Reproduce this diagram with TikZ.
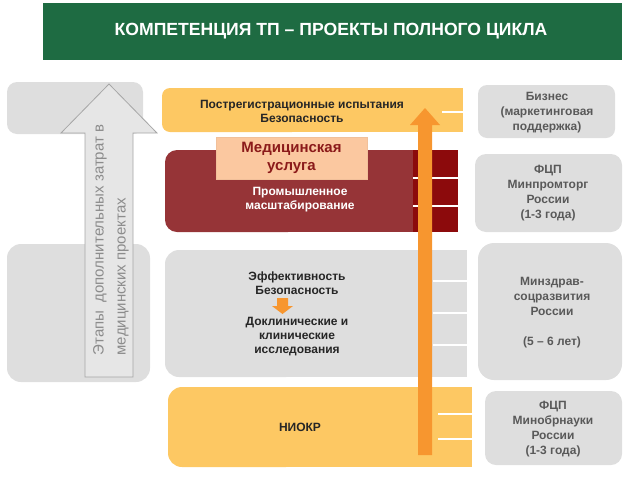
\documentclass[tikz,border=0pt]{standalone}
\usepackage{fontspec}
\setmainfont{Liberation Sans}
\definecolor{titlegreen}{HTML}{1E6B42}
\definecolor{baryellow}{HTML}{FDC863}
\definecolor{barred}{HTML}{963437}
\definecolor{bardark}{HTML}{8C0A0C}
\definecolor{peach}{HTML}{FBC8A0}
\definecolor{boxgray}{HTML}{DEDEDE}
\definecolor{arrowgray}{HTML}{E6E6E6}
\definecolor{arrowedge}{HTML}{A6A6A6}
\definecolor{orangearrow}{HTML}{F7962F}
\definecolor{txtgray}{HTML}{595959}
\definecolor{redtxt}{HTML}{8B1A1A}
\tikzset{
  midtext/.style={font=\fontsize{12}{14}\selectfont\bfseries, text=black!85, align=center, inner sep=0pt},
  righttext/.style={font=\fontsize{12}{15}\selectfont\bfseries, text=txtgray, align=center, inner sep=0pt},
  sepline/.style={white, line width=1.6pt},
}
\begin{document}
\begin{tikzpicture}[x=1pt,y=-1pt]
\useasboundingbox (0,0) rectangle (640,480);
% title
\fill[titlegreen] (43,3) rectangle (622,60);
\node[font=\fontsize{17.6}{20}\selectfont\bfseries, text=white] (title) at (331,31) {КОМПЕТЕНЦИЯ ТП – ПРОЕКТЫ ПОЛНОГО ЦИКЛА};
% left gray boxes
\fill[boxgray, rounded corners=10pt] (7,82) rectangle (143,134);
\fill[boxgray, rounded corners=14pt] (7,244) rectangle (150,382);
% top yellow bar
\fill[baryellow, rounded corners=8pt] (162,88) rectangle (300,132);
\fill[baryellow] (250,88) rectangle (463,132);
\draw[sepline] (442,112) -- (463,112);
\node[midtext] (post) at (302,111) {Пострегистрационные испытания\\Безопасность};
% red bar
\fill[barred, rounded corners=12pt] (165,150) rectangle (300,232);
\fill[barred] (250,150) rectangle (413,232);
\fill[bardark] (413,150) rectangle (458,232);
\draw[sepline] (413,178) -- (458,178);
\draw[sepline] (413,206) -- (458,206);
\node[midtext, text=white] (prom) at (300,200) {Промышленное\\масштабирование};
% medical service box
\node[draw=peach!80!black!20!peach, fill=peach, minimum width=151pt, minimum height=42pt, inner sep=0pt,
      font=\fontsize{15}{18}\selectfont\bfseries, text=redtxt, align=center] (med) at (291.5,158) {Медицинская\\услуга};
% gray middle bar
\fill[boxgray, rounded corners=14pt] (165,250) rectangle (300,377);
\fill[boxgray] (250,250) rectangle (467,377);
\draw[sepline] (433,281) -- (467,281);
\draw[sepline] (433,313) -- (467,313);
\draw[sepline] (433,345) -- (467,345);
\node[midtext] (eff) at (297,283) {Эффективность\\Безопасность};
\node[midtext] (preclin) at (297,337) {Доклинические и\\клинические\\исследования};
\fill[orangearrow] (277,298) -- (288,298) -- (288,306) -- (293,306) -- (282.5,314) -- (272,306) -- (277,306) -- cycle;
% bottom yellow bar
\fill[baryellow, rounded corners=14pt] (168,387) rectangle (300,467);
\fill[baryellow] (250,387) rectangle (472,467);
\draw[sepline] (438,414) -- (472,414);
\draw[sepline] (438,439) -- (472,439);
\node[midtext] (niokr) at (300,427) {НИОКР};
% big orange arrow
\fill[orangearrow] (418,455) -- (418,125) -- (410,125) -- (425,108) -- (440,125) -- (432,125) -- (432,455) -- cycle;
% gray up arrow
\filldraw[fill=arrowgray, draw=arrowedge, line width=0.8pt] (85,377) -- (85,133) -- (61,133) -- (109,84) -- (157,133) -- (133,133) -- (133,377) -- cycle;
\node[font=\fontsize{15}{22}\selectfont, text=black!45, align=left, rotate=90, inner sep=0pt] (arrowtxt) at (111,240) {Этапы\ \ дополнительных затрат в\\медицинских проектах};
% right boxes
\fill[boxgray, rounded corners=9pt] (478,85) rectangle (615,138);
\node[righttext] (biz) at (547,113) {Бизнес\\(маркетинговая\\поддержка)};
\fill[boxgray, rounded corners=11pt] (475,154) rectangle (622,232);
\node[righttext] (minprom) at (548,193) {ФЦП\\Минпромторг\\России\\(1-3 года)};
\fill[boxgray, rounded corners=16pt] (478,243) rectangle (622,380);
\node[righttext] (minzdrav) at (552,313) {Минздрав-\\соцразвития\\России\\[15pt](5 – 6 лет)};
\fill[boxgray, rounded corners=11pt] (485,391) rectangle (622,465);
\node[righttext] (minobr) at (553,429) {ФЦП\\Минобрнауки\\России\\(1-3 года)};
\end{tikzpicture}
\end{document}
